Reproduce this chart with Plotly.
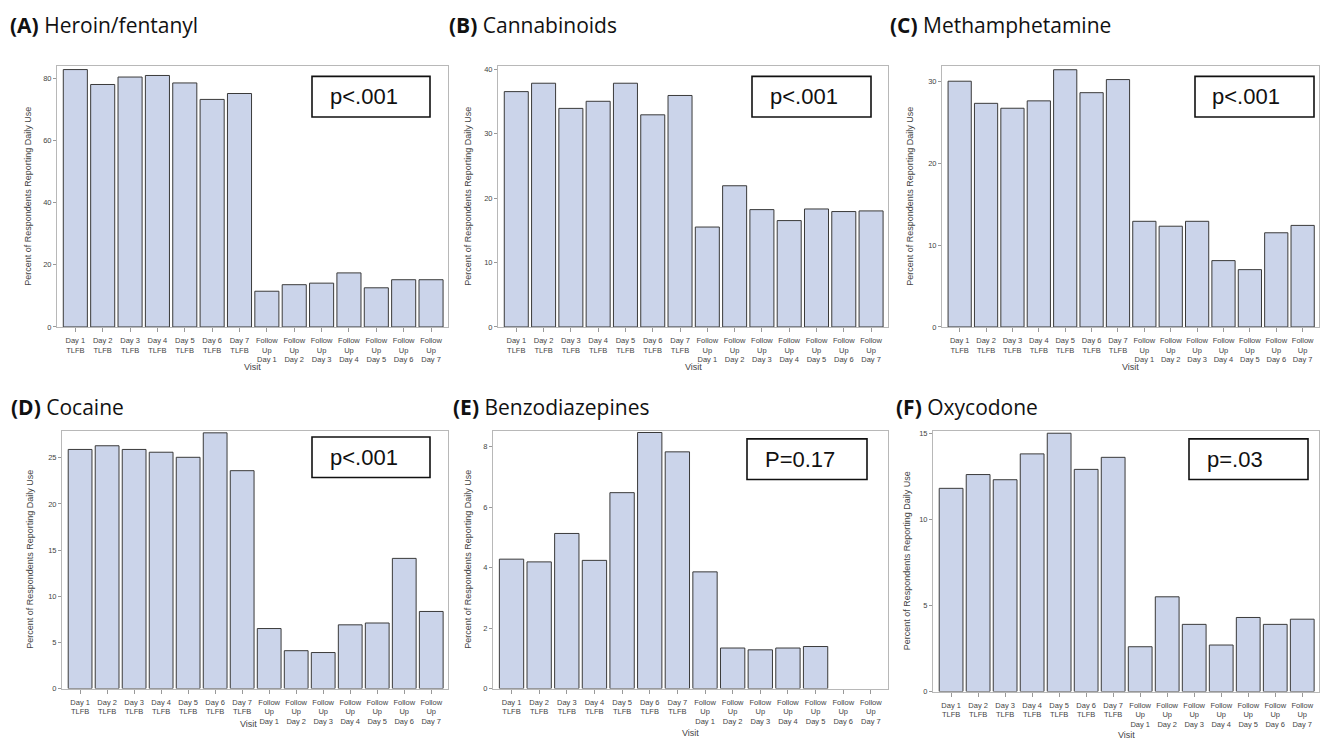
import plotly.graph_objects as go

# page body has an 8px margin, so the figure is drawn inside it
OFF = 8
W, H = 1320, 742

visits = ["Day 1<br>TLFB", "Day 2<br>TLFB", "Day 3<br>TLFB", "Day 4<br>TLFB", "Day 5<br>TLFB",
          "Day 6<br>TLFB", "Day 7<br>TLFB",
          "Follow<br>Up<br>Day 1", "Follow<br>Up<br>Day 2", "Follow<br>Up<br>Day 3",
          "Follow<br>Up<br>Day 4", "Follow<br>Up<br>Day 5", "Follow<br>Up<br>Day 6",
          "Follow<br>Up<br>Day 7"]

heroin_fentanyl = [82.8, 78.0, 80.4, 80.9, 78.5, 73.2, 75.1, 11.5, 13.6, 14.1, 17.4, 12.6, 15.2, 15.2]
cannabinoids = [36.5, 37.8, 33.9, 35.0, 37.8, 32.9, 35.9, 15.5, 21.9, 18.2, 16.5, 18.3, 17.9, 18.0]
methamphetamine = [30.0, 27.3, 26.7, 27.6, 31.4, 28.6, 30.2, 12.9, 12.3, 12.9, 8.1, 7.0, 11.5, 12.4]
cocaine = [25.9, 26.3, 25.9, 25.6, 25.05, 27.7, 23.6, 6.5, 4.1, 3.9, 6.9, 7.1, 14.1, 8.35]
benzodiazepines = [4.28, 4.19, 5.13, 4.24, 6.48, 8.47, 7.83, 3.86, 1.34, 1.28, 1.34, 1.39, 0, 0]
oxycodone = [11.8, 12.6, 12.3, 13.8, 15.0, 12.9, 13.6, 2.6, 5.5, 3.9, 2.7, 4.3, 3.9, 4.2]

panel_labels = ["(A)", "(B)", "(C)", "(D)", "(E)", "(F)"]
panel_names = ["Heroin/fentanyl", "Cannabinoids", "Methamphetamine", "Cocaine", "Benzodiazepines", "Oxycodone"]
p_values = ["p<.001", "p<.001", "p<.001", "p<.001", "P=0.17", "p=.03"]
y_ticks = [[0, 20, 40, 60, 80], [0, 10, 20, 30, 40], [0, 10, 20, 30],
           [0, 5, 10, 15, 20, 25], [0, 2, 4, 6, 8], [0, 5, 10, 15]]
series = [heroin_fentanyl, cannabinoids, methamphetamine, cocaine, benzodiazepines, oxycodone]

# layout (window pixels)
plot_boxes = [(57, 448, 65, 328), (498, 888, 65, 328), (942, 1319, 65, 328),
              (62, 448, 433, 693), (493, 888, 433, 693), (933, 1319, 433, 696)]
y_tops = [83.8, 40.4, 31.8, 27.9, 8.52, 15.13]
title_pos = [(8, 23), (447, 23), (888, 23), (9, 409), (451, 409), (894, 409)]
pbox = [(312, 430, 75, 116), (752, 871, 75, 116), (1195, 1314, 75, 116),
        (312, 430, 439, 480), (747, 867, 441, 482), (1189, 1308, 441, 482)]
ptext_x = [328, 768, 1210, 328, 763, 1205]
ytitle_x = [28, 468, 910, 30, 468, 907]
visit_x = [252, 693, 1130, 248, 690, 1126]
visit_y = [368, 368, 368, 729, 738, 740]

def px(x):
    return (x - OFF) / W

def py(y):
    return 1 - (y - OFF) / H

FONT = "Liberation Sans, Arial, sans-serif"
TITLE_FONT = "Open Sans, Liberation Sans, sans-serif"
BAR_FILL = "#CBD4EA"
BAR_LINE = "#3a3a3a"

fig = go.Figure()
layout = dict(width=W, height=H, margin=dict(l=0, r=0, t=0, b=0),
              paper_bgcolor="white", plot_bgcolor="white", showlegend=False,
              bargap=0.12, font=dict(family=FONT, color="#333"))
annotations = []
shapes = []

for i in range(6):
    n = "" if i == 0 else str(i + 1)
    x0, x1, y0, y1 = plot_boxes[i]
    vals = series[i]
    fig.add_trace(go.Bar(x=list(range(len(visits))), y=vals, xaxis="x" + n, yaxis="y" + n,
                         marker=dict(color=BAR_FILL,
                                     line=dict(color=BAR_LINE, width=[1 if v > 0 else 0 for v in vals])),
                         width=0.88))
    layout["xaxis" + n] = dict(domain=[px(x0), px(x1)], anchor="y" + n,
                               range=[-0.67, 13.62], tickmode="array",
                               tickvals=list(range(len(visits))), ticktext=visits,
                               tickangle=0, tickfont=dict(size=7.5, color="#444"),
                               ticks="outside", ticklen=4, tickcolor="#999",
                               ticklabelstandoff=2,
                               showline=True, linecolor="#b8b8b8", linewidth=1, mirror=True,
                               showgrid=False, zeroline=False, fixedrange=True)
    layout["yaxis" + n] = dict(domain=[py(y1), py(y0)], anchor="x" + n,
                               range=[0, y_tops[i]], tickmode="array", tickvals=y_ticks[i],
                               tickfont=dict(size=7.5, color="#444"),
                               ticks="outside", ticklen=3, tickcolor="#999",
                               showline=True, linecolor="#b8b8b8", linewidth=1, mirror=True,
                               showgrid=False, zeroline=False, fixedrange=True)
    # panel title
    tx, ty = title_pos[i]
    annotations.append(dict(x=px(tx), y=py(ty), xref="paper", yref="paper",
                            xanchor="left", yanchor="middle", showarrow=False,
                            text="<b>" + panel_labels[i] + "</b> " + panel_names[i],
                            font=dict(size=21, color="#111", family=TITLE_FONT)))
    # p-value box
    bx0, bx1, by0, by1 = pbox[i]
    shapes.append(dict(type="rect", xref="paper", yref="paper",
                       x0=px(bx0), x1=px(bx1), y0=py(by1), y1=py(by0),
                       line=dict(color="#111", width=1.6), fillcolor="white"))
    annotations.append(dict(x=px(ptext_x[i]), y=py((by0 + by1) / 2), xref="paper", yref="paper",
                            xanchor="left", yanchor="middle", showarrow=False,
                            text=p_values[i], font=dict(size=22, color="#111", family=FONT)))
    # y title
    annotations.append(dict(x=px(ytitle_x[i]), y=py((y0 + y1) / 2), xref="paper", yref="paper",
                            xanchor="center", yanchor="middle", showarrow=False, textangle=-90,
                            text="Percent of Respondents Reporting Daily Use",
                            font=dict(size=9, color="#444", family=FONT)))
    # x title
    annotations.append(dict(x=px(visit_x[i]), y=py(visit_y[i]), xref="paper", yref="paper",
                            xanchor="center", yanchor="middle", showarrow=False,
                            text="Visit", font=dict(size=9, color="#444", family=FONT)))

layout["annotations"] = annotations
layout["shapes"] = shapes
fig.update_layout(**layout)
fig.write_html("out.html")
